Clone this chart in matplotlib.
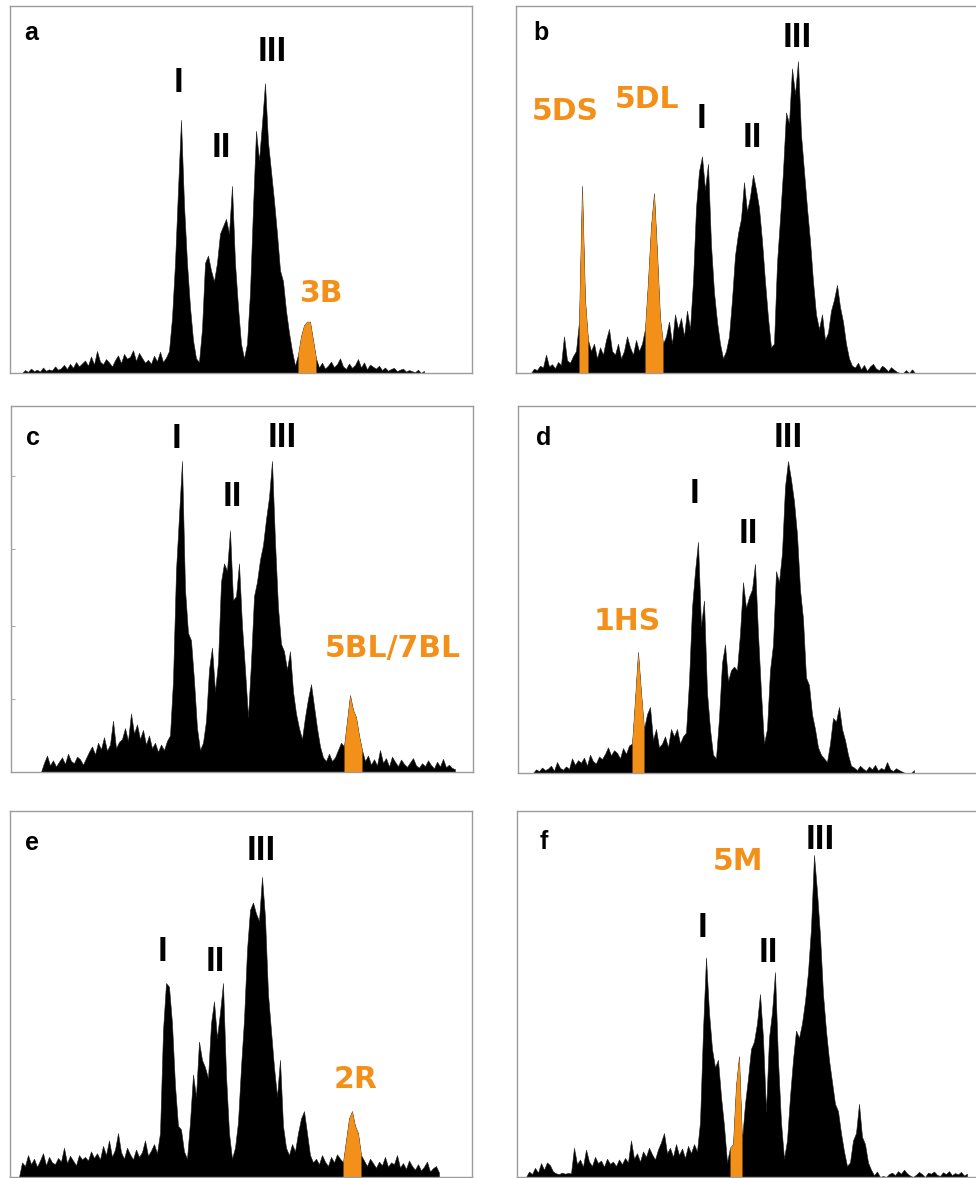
import numpy as np
import matplotlib
matplotlib.use("Agg")
import matplotlib.pyplot as plt

# ---------------- data (heights in % of panel height, one value per channel) ----------------
panel_a = ([0, 0, 0, 0, 0]
           + [0.8, 0.3, 1.2, 0.5, 0.9, 0.4, 1.5, 0.6, 1.0, 0.7, 1.8, 0.9, 1.3, 2.2, 1.1]
           + [2.5, 1.4, 3.0, 1.8, 2.6, 3.4, 2.0, 4.5, 2.3, 6.0, 3.1, 2.4, 3.8, 2.9, 1.8]
           + [3.5, 4.8, 2.7, 5.2, 3.9, 4.4, 6.2, 3.3, 5.5, 4.1, 2.8, 3.6, 2.5, 4.7, 3.2, 5.8, 3.0, 4.2]
           + [6, 15, 30, 50, 69, 46, 30, 18, 9, 4, 3]
           + [12, 30, 32, 28, 25, 30, 38, 40, 42, 38, 51, 30, 18, 8, 4]
           + [8, 22, 45, 66, 58, 68, 79, 63, 55, 47, 38, 28, 25, 17, 11, 6, 2]
           + [5, 10, 13, 14, 14, 9, 4]
           + [1.5, 2.8, 1.2, 2.0, 3.1, 1.6, 2.4, 4.0, 1.8, 1.1, 2.6, 1.4, 2.2, 3.8, 1.5, 2.9,
              1.0, 2.3, 1.7, 1.2, 2.0, 0.8, 1.5, 0.6, 1.1, 1.4, 0.5, 0.9, 1.2, 0.4, 0.8, 0.5]
           + [0.2, 0.9, 0, 0.6])

panel_b = ([0] * 6
           + [1.2, 0.8, 2.0, 1.5, 5.0, 1.8, 2.4, 1.3, 3.0, 2.2, 10.0, 3.5, 2.8, 4.6]
           + [6]
           + [14, 51, 20, 9]
           + [6, 8, 4, 7, 5, 9, 12, 6, 5, 8, 4, 6, 10, 7, 5, 9, 6, 8]
           + [12, 25, 40, 49, 33, 15, 8]
           + [10, 14, 8, 16, 12, 15, 10, 17, 12]
           + [25, 45, 55, 59, 50, 57, 35, 22, 14, 8, 4, 6]
           + [10, 20, 32, 38, 42, 52, 44, 48, 54, 50, 45, 36, 25, 15, 7]
           + [8, 30, 42, 55, 71, 68, 83, 76, 85, 65, 55, 45, 36, 25, 16]
           + [12, 16, 9, 11, 17, 20, 24, 18, 14, 8, 4, 2]
           + [1.5, 2.8, 1.0, 2.2, 0.6, 1.8, 2.5, 1.2, 0.8, 2.0, 1.4, 0.5, 1.6, 0.9, 0.3,
              0, 0, 0.8, 0, 1.0, 0])

panel_c = ([0] * 11
           + [2.5, 4.5, 1.8, 3.2, 1.5, 2.8, 4.0, 2.2, 5.0, 3.0, 2.4, 4.2, 3.5, 2.0, 3.8]
           + [5.5, 7.0, 4.8, 8.0, 6.2, 9.5, 5.8, 7.5, 14.0, 6.5, 8.2]
           + [9.0, 12.0, 8.5, 16.0, 10.5, 13.0, 9.0, 11.5, 7.5, 10.0]
           + [6.5, 8.0, 5.5, 7.5, 6.0, 8.5]
           + [10, 25, 55, 70, 85, 50, 38, 36, 25, 12, 6, 8]
           + [14, 28, 34, 22, 30, 52, 57, 55, 66, 47, 48, 57, 40, 28, 15]
           + [30, 48, 52, 58, 62, 69, 75, 85, 63, 45, 35, 33, 28, 33, 22, 16, 12, 9]
           + [15, 20, 24, 18, 12, 7, 4, 3, 5, 3, 4, 6, 8]
           + [7, 14, 21, 17, 15, 10, 6]
           + [3.0, 4.5, 2.0, 3.5, 1.8, 6.0, 2.5, 3.8, 1.5, 4.2, 2.8, 1.6, 3.4, 2.2, 1.4, 2.6,
              3.8, 1.8, 1.2, 2.4, 1.6, 3.2, 1.9, 1.0, 2.8, 1.5, 3.6, 1.3, 2.0, 1.1, 0.8])

panel_d = ([0] * 6
           + [1.0, 0.5, 1.5, 0.8, 1.2, 2.0, 0.6, 3.0, 1.4, 0.9, 1.8, 1.1]
           + [4.0, 2.2, 3.5, 2.8, 4.2, 2.0, 5.0, 3.2, 2.6, 4.5, 3.8, 5.2]
           + [7.0, 4.8, 6.2, 5.5, 4.0, 6.8, 5.2, 7.5]
           + [8, 20, 33, 22, 12]
           + [16, 18, 9, 12, 7, 8, 10, 7, 12, 10, 12, 8, 10, 11]
           + [25, 45, 55, 63, 40, 47, 22, 12, 5, 4]
           + [15, 30, 35, 25, 28, 29, 28, 38, 52, 45, 48, 50, 57, 38, 22, 8]
           + [12, 28, 35, 55, 52, 60, 78, 85, 80, 74, 65, 50, 42, 26, 24, 16, 12, 7, 5]
           + [4, 3, 8, 15, 14, 18, 12, 9, 5, 2]
           + [1.5, 0.8, 2.0, 1.2, 0.6, 1.8, 1.0, 2.2, 0.7, 1.4, 0.9, 3.0, 1.1, 0.5, 1.3,
              0.8, 0.4, 0, 0, 0, 0.8])

panel_e = ([0] * 4
           + [4.0, 3.0, 6.0, 3.5, 5.0, 2.8, 4.5, 6.5, 3.2, 5.5, 4.0]
           + [3.5, 5.2, 4.2, 8.0, 3.8, 5.8, 4.5, 3.2, 6.0, 4.8, 5.5]
           + [4.5, 7.0, 5.2, 6.5, 4.8, 8.5, 6.0, 10.0, 5.5, 7.5, 12.0, 6.8]
           + [5.0, 8.0, 6.2, 4.8, 7.5, 5.5, 6.8, 10.0, 5.8, 7.2, 9.0, 6.5]
           + [12, 40, 53, 52, 42, 25, 14, 13, 7, 5]
           + [15, 28, 22, 37, 32, 30, 27, 42, 48, 38, 45, 53, 28, 12, 5]
           + [8, 15, 30, 43, 62, 73, 75, 72, 70, 82, 71, 50, 40, 30, 22, 32, 14, 8]
           + [6, 9, 7, 12, 16, 18, 12, 6, 4]
           + [5.0, 3.5, 6.0, 4.2, 3.0, 5.5, 4.0, 6.2, 5.0]
           + [4, 10, 16, 18, 14, 12, 6]
           + [4.5, 3.0, 5.0, 3.8, 2.5, 4.2, 3.2, 5.5, 2.8, 4.0, 3.5, 6.0, 2.6, 3.8, 2.2, 4.5,
              3.0, 2.0, 3.5, 1.8, 2.8, 4.2, 1.5, 2.4, 3.0, 1.2])

panel_f = ([0] * 4
           + [1.5, 0.8, 2.5, 1.2, 3.8, 2.0, 4.0, 3.2, 1.5]
           + [1.0, 0.8, 1.2, 0.9, 1.1, 1.0]
           + [8.0, 3.5, 4.8, 2.8, 7.5, 4.2, 3.0, 5.5, 3.8, 4.5, 2.8, 5.0, 3.6, 4.2, 3.0, 4.8,
              3.5, 5.2, 4.0, 10.0]
           + [5.0, 6.5, 4.2, 7.0, 5.5, 8.0, 6.2, 4.8, 7.5, 9.5, 12.0, 6.5, 8.0, 5.5, 9.0, 6.0,
              7.8, 5.2, 8.5, 6.5, 9.0, 7.0]
           + [15, 40, 60, 45, 35, 30, 32, 22, 14, 4]
           + [8, 9, 25, 33, 10]
           + [20, 27, 35, 37, 42, 50, 38, 18, 38, 45, 56, 32, 15, 5]
           + [10, 22, 32, 40, 38, 42, 48, 56, 68, 88, 78, 66, 50, 40, 32, 26, 20, 18, 12, 7, 3]
           + [4, 10, 12, 20, 11, 9, 4, 2]
           + [0.5, 1.5, 0, 0.3, 0, 0.8, 1.2, 0.5, 1.6, 0.9, 2.0, 1.0, 0.4, 0, 0.6, 1.4, 0.8,
              0, 1.2, 0.9, 1.5, 0.6, 0.3, 1.3, 0.8, 1.6, 0.5, 1.1, 0.7, 1.4, 0.4, 0.9])

# channel ranges (inclusive) of highlighted chromosome peaks
highlight_a = [(96, 102)]
highlight_b = [(21, 24), (43, 49)]
highlight_c = [(111, 117)]
highlight_d = [(38, 42)]
highlight_e = [(111, 117)]
highlight_f = [(71, 75)]

panel_letters = ["a", "b", "c", "d", "e", "f"]
peak_names = ["I", "II", "III"]
highlight_names_a = ["3B"]
highlight_names_b = ["5DS", "5DL"]
highlight_names_c = ["5BL/7BL"]
highlight_names_d = ["1HS"]
highlight_names_e = ["2R"]
highlight_names_f = ["5M"]

# ---------------- styling / layout ----------------
W, H = 976, 1178
ORANGE = "#F39019"
FRAME = "#9c9c9c"
N_CH = 154

fig = plt.figure(figsize=(W / 100, H / 100), dpi=100)

# (left, top, width, height) in pixels
boxes = {
    "a": (10, 6, 462, 367),
    "b": (516, 6, 462, 367),
    "c": (11, 406, 462, 366),
    "d": (518, 406, 462, 367),
    "e": (10, 811, 462, 366),
    "f": (517, 811, 462, 366),
}

# label placements: (x channel, baseline height %)
letter_pos = {"a": (7.2, 90.7), "b": (8.3, 90.7), "c": (7.3, 89.4),
              "d": (8.7, 89.4), "e": (7.3, 89.4), "f": (9.0, 89.6)}
roman_pos = {
    "a": [(56.3, 76.6), (70.3, 58.9), (87.3, 85.0)],
    "b": [(61.7, 66.7), (78.7, 61.7), (93.7, 88.9)],
    "c": [(55.0, 88.4), (73.7, 72.8), (90.3, 88.9)],
    "d": [(58.7, 73.5), (76.7, 62.6), (90.0, 88.9)],
    "e": [(51.0, 58.9), (68.3, 56.2), (83.7, 86.6)],
    "f": [(62.0, 65.5), (83.7, 58.7), (101.0, 89.6)],
}
orange_pos = {
    "a": [(103.7, 19.4)],
    "b": [(16.3, 68.9), (43.7, 72.1)],
    "c": [(127.3, 31.4)],
    "d": [(36.3, 39.0)],
    "e": [(115.3, 24.2)],
    "f": [(73.7, 83.9)],
}

data = {"a": panel_a, "b": panel_b, "c": panel_c, "d": panel_d, "e": panel_e, "f": panel_f}
highlights = {"a": highlight_a, "b": highlight_b, "c": highlight_c,
              "d": highlight_d, "e": highlight_e, "f": highlight_f}
hnames = {"a": highlight_names_a, "b": highlight_names_b, "c": highlight_names_c,
          "d": highlight_names_d, "e": highlight_names_e, "f": highlight_names_f}

for key in panel_letters:
    l, t, w, h = boxes[key]
    ax = fig.add_axes([l / W, (H - t - h) / H, w / W, h / H])
    vals = np.asarray(data[key], dtype=float)
    x = np.arange(len(vals))
    ax.fill_between(x, 0, vals, color="black", lw=0.4, edgecolor="#222222")
    for (s, e) in highlights[key]:
        ax.fill_between(x[s:e + 1], 0, vals[s:e + 1], color=ORANGE, lw=0)
    ax.set_xlim(0, N_CH)
    ax.set_ylim(0, 100)
    ax.set_xticks([])
    if key == "c":
        ax.set_yticks([20, 40, 61, 81])
        ax.tick_params(axis="y", direction="in", length=3, color="#aaaaaa",
                       labelleft=False, width=0.8)
    else:
        ax.set_yticks([])
    for sp in ax.spines.values():
        sp.set_color(FRAME)
        sp.set_linewidth(1.0)

    lx, ly = letter_pos[key]
    ax.text(lx, ly, key, fontsize=18, fontweight="bold", family="Liberation Sans",
            ha="center", va="baseline")
    for name, (px, py) in zip(peak_names, roman_pos[key]):
        ax.text(px, py, name, fontsize=25, fontweight="bold", family="Liberation Sans",
                ha="center", va="baseline")
    for name, (px, py) in zip(hnames[key], orange_pos[key]):
        ax.text(px, py, name, fontsize=21.5, fontweight="bold", family="DejaVu Sans",
                color=ORANGE, ha="center", va="baseline")

fig.savefig("out.png", dpi=100, facecolor="white")
